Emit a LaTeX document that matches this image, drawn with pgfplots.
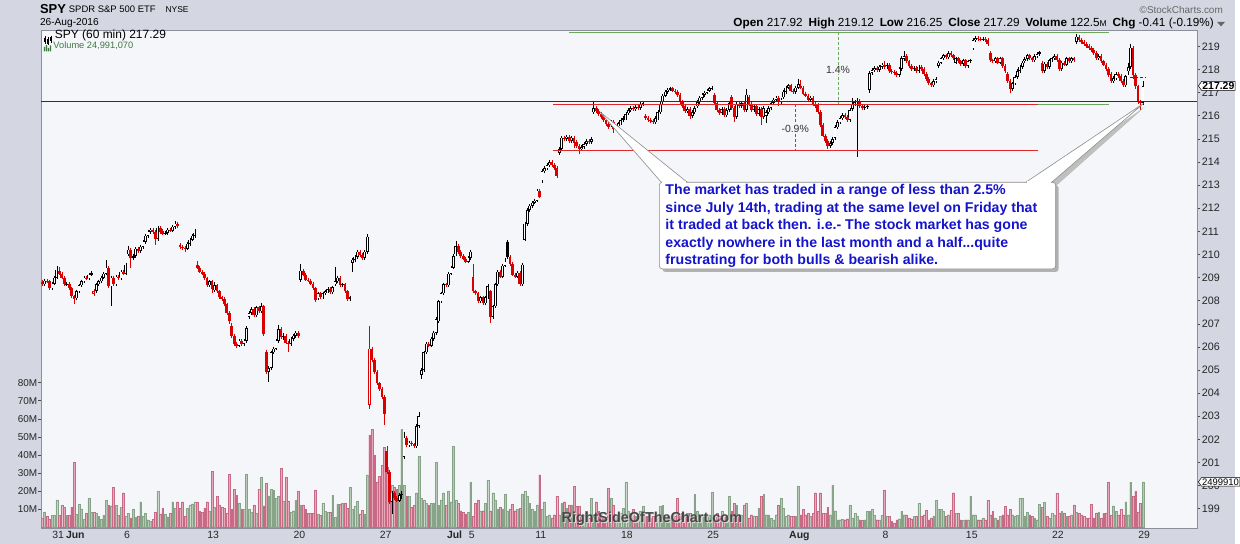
\documentclass[border=0pt]{standalone}
\usepackage{pgfplots}
\pgfplotsset{compat=1.18}
\usepackage{pgfplotstable}
\usepackage{fontspec}
\setmainfont{Liberation Sans}
\usetikzlibrary{shapes.symbols}
\definecolor{outerbg}{HTML}{D4D7E1}
\definecolor{plotbg}{HTML}{F4F6FA}
\definecolor{candred}{HTML}{DA0000}
\definecolor{volpink}{HTML}{E8A8BA}
\definecolor{volpinkd}{HTML}{C66A86}
\definecolor{volgreen}{HTML}{B4CAB4}
\definecolor{volgreend}{HTML}{88A488}
\definecolor{lineblue}{HTML}{1A1AE0}
\definecolor{linered}{HTML}{E02828}
\definecolor{linegreen}{HTML}{6CA85C}
\definecolor{calloutblue}{HTML}{1414CC}
\definecolor{framegray}{HTML}{8C8E9C}
\definecolor{volgreentext}{HTML}{3C7A3C}

\pgfplotstableread{
b o h l c d v
0 208.80 208.88 208.62 208.70 1 5
1 208.70 208.95 208.62 208.87 0 8.3
2 208.87 208.95 208.75 208.83 1 6
3 208.83 208.91 208.45 208.53 1 4.4
4 208.53 208.82 208.45 208.74 0 6.4
5 208.74 209.08 208.66 209.00 0 6.4
6 209.00 209.50 208.92 209.34 0 15
7 209.30 209.45 209.09 209.17 1 6.4
8 209.17 209.25 208.92 209.00 1 12
9 209.00 209.08 208.62 208.70 1 11
10 208.70 208.82 208.62 208.74 0 6.4
11 208.74 208.82 208.45 208.53 1 6.4
12 208.53 208.61 208.10 208.18 1 11
13 208.18 208.26 207.85 208.06 1 35.7
14 208.10 208.48 208.02 208.40 0 7
15 208.40 208.74 208.32 208.66 0 12.7
16 208.66 208.91 208.58 208.83 0 10
17 208.83 209.08 208.75 209.00 0 4.4
18 209.00 209.08 208.88 208.96 1 7.4
19 208.96 209.21 208.88 209.13 0 16
20 209.13 209.29 209.05 209.21 0 8
21 208.30 208.50 208.22 208.42 1 8
22 208.42 208.78 208.34 208.70 0 7.4
23 208.70 208.91 208.62 208.83 0 6
24 208.83 209.08 208.75 209.00 0 4.4
25 209.00 209.25 208.92 209.17 0 6.6
26 209.17 209.75 209.09 209.43 0 14.7
27 209.43 209.51 208.54 208.62 1 12
28 208.62 209.08 207.75 209.00 0 11.8
29 209.00 209.08 208.62 208.70 1 22
30 208.70 209.12 208.62 209.04 0 12
31 209.04 209.12 208.88 208.96 1 6.4
32 208.96 209.34 208.88 209.26 0 11
33 209.26 209.34 209.09 209.17 1 19
34 209.17 209.64 209.09 209.56 0 6
35 210.00 210.35 209.92 210.20 0 7.7
36 210.20 210.28 209.40 209.86 1 5
37 209.86 210.02 209.78 209.94 0 10
38 209.94 210.33 209.86 210.25 0 5.3
39 210.25 210.33 210.08 210.16 1 6.1
40 210.16 210.41 210.08 210.33 0 14
41 210.33 210.63 210.25 210.55 0 6.1
42 210.55 210.89 210.47 210.81 0 7.4
43 210.81 211.06 210.73 210.98 0 4
44 210.98 211.15 210.90 211.07 0 3.1
45 211.07 211.15 210.90 210.98 1 4.4
46 210.98 211.06 210.42 210.68 1 8.3
47 210.68 211.24 210.60 211.16 0 19.7
48 211.16 211.24 210.90 210.98 1 7.2
49 211.00 211.08 210.82 210.90 1 10.5
50 210.90 211.02 210.82 210.94 0 7.2
51 210.94 211.15 210.86 211.07 0 5.7
52 211.07 211.15 210.95 211.03 1 7.7
53 211.03 211.28 210.95 211.20 0 14
54 211.20 211.45 211.12 211.33 0 10.5
55 211.33 211.41 211.16 211.24 1 14
56 210.40 210.48 210.25 210.33 1 10.5
57 210.33 210.41 210.21 210.29 1 14
58 210.29 210.37 210.10 210.25 1 5.9
59 210.25 210.54 210.17 210.46 0 10.5
60 210.46 210.72 210.38 210.64 0 12.3
61 210.64 210.89 210.56 210.81 0 12.9
62 210.81 211.10 210.73 210.94 0 14
63 209.55 209.70 209.35 209.43 1 13.5
64 209.43 209.51 209.18 209.26 1 8.5
65 209.26 209.34 209.09 209.17 1 8.1
66 209.17 209.25 208.88 208.96 1 10.5
67 208.96 209.04 208.58 208.66 1 14
68 208.66 208.91 208.58 208.83 0 8.5
69 208.83 208.91 208.35 208.49 1 30.8
70 208.45 208.80 208.37 208.66 0 10.9
71 208.66 208.74 208.32 208.40 1 17
72 208.40 208.48 208.06 208.14 1 12.3
73 208.14 208.22 207.98 208.06 1 10.9
74 208.06 208.14 207.76 207.84 1 10.5
75 207.84 207.92 207.38 207.46 1 7.7
76 207.46 207.54 207.00 207.12 1 29.3
77 206.90 207.05 206.40 206.48 1 9.6
78 206.48 206.56 206.06 206.14 1 21
79 206.14 206.22 205.95 206.06 1 17.5
80 206.06 206.35 205.98 206.27 0 13.3
81 206.27 206.35 206.06 206.14 1 9.9
82 206.14 206.35 206.06 206.27 0 9.6
83 206.27 206.90 206.19 206.82 0 29.3
84 207.30 207.54 207.22 207.46 0 9.6
85 207.46 207.71 207.38 207.63 0 8.3
86 207.63 207.71 207.29 207.37 1 12.3
87 207.37 207.79 207.29 207.71 0 7.7
88 207.71 207.79 207.46 207.54 1 21
89 207.54 207.90 207.46 207.75 0 27.6
90 207.75 207.83 206.45 206.57 1 11.8
91 205.80 205.88 204.84 204.92 1 24.3
92 204.92 205.16 204.50 205.08 0 17.3
93 205.08 205.84 205.00 205.76 0 21
94 205.76 206.01 205.68 205.93 0 20.6
95 205.93 206.35 205.85 206.27 0 16
96 206.27 206.95 206.19 206.78 0 17.3
97 206.78 206.86 206.36 206.44 1 32.6
98 206.44 206.60 206.30 206.48 0 14.4
99 206.48 206.56 206.11 206.19 1 27.6
100 206.19 206.27 205.80 206.14 1 14.4
101 206.14 206.43 206.06 206.35 0 8.1
102 206.35 206.56 206.27 206.48 0 9
103 206.48 206.69 206.40 206.61 0 14.7
104 206.61 206.69 206.40 206.48 1 20
105 208.90 209.60 208.82 209.30 0 12.3
106 209.30 209.38 209.05 209.13 1 12.3
107 209.13 209.21 208.83 208.91 1 9.6
108 208.91 208.99 208.79 208.87 1 7.4
109 208.87 208.95 208.66 208.74 1 7.4
110 208.74 208.82 208.45 208.53 1 7.4
111 208.53 208.61 207.95 208.03 1 20.5
112 208.10 208.39 208.02 208.31 0 7.2
113 208.31 208.39 208.06 208.14 1 6.4
114 208.14 208.39 208.06 208.31 0 13
115 208.31 208.48 208.23 208.40 0 8.5
116 208.40 208.57 208.32 208.49 0 8.1
117 208.49 208.57 208.28 208.36 1 8.3
118 208.36 208.65 208.28 208.57 0 17.7
119 208.70 209.47 208.62 208.83 0 5.5
120 208.83 209.08 208.75 209.00 0 12.5
121 209.00 209.08 208.58 208.66 1 12.5
122 208.66 208.78 208.58 208.70 0 13.3
123 208.70 208.78 208.32 208.40 1 13.3
124 208.40 208.48 207.98 208.06 1 10.5
125 208.06 208.22 207.98 208.14 0 22
126 209.65 209.85 209.26 209.77 0 9.6
127 209.77 209.98 209.69 209.90 0 11.4
128 209.90 210.20 209.82 210.12 0 14.2
129 210.12 210.20 209.91 209.99 1 7.2
130 209.99 210.07 209.78 209.86 1 9.2
131 209.86 210.20 209.78 210.12 0 7.2
132 210.12 210.90 210.04 210.77 0 29
133 203.50 206.90 203.30 205.93 1 51
134 205.93 206.01 205.34 205.42 1 54
135 205.42 205.50 204.84 204.92 1 40
136 204.92 205.00 204.34 204.42 1 25
137 204.42 204.50 204.09 204.17 1 28
138 204.17 204.25 203.75 203.83 1 34
139 203.83 203.91 202.60 203.08 1 44
140 201.50 201.70 200.51 200.59 1 33
141 200.59 200.67 199.22 199.30 1 30
142 199.30 199.78 198.75 199.70 0 23
143 199.70 199.78 199.37 199.45 1 22
144 199.45 199.53 199.27 199.35 1 21
145 199.35 199.68 199.27 199.60 0 23
146 199.60 199.75 199.40 199.65 0 54
147 201.25 202.30 201.17 202.07 0 23
148 202.07 202.15 201.66 201.74 1 17
149 201.74 201.94 201.66 201.86 0 17
150 201.86 201.94 201.70 201.78 1 11
151 201.78 201.86 201.62 201.70 1 12
152 201.70 202.66 201.62 202.58 0 19
153 202.58 203.20 202.50 203.00 0 39
154 204.80 205.08 204.60 205.00 0 16
155 205.00 205.84 204.92 205.76 0 15
156 205.76 206.22 205.68 206.14 0 13
157 206.14 206.22 205.98 206.06 1 12
158 206.06 206.43 205.98 206.35 0 13
159 206.35 206.69 206.27 206.61 0 13
160 206.61 207.28 206.53 207.20 0 36
161 207.10 208.05 207.02 207.97 0 12
162 207.97 208.39 207.89 208.31 0 15
163 208.31 208.78 208.23 208.70 0 19
164 208.70 208.78 208.58 208.66 1 12
165 208.66 209.25 208.58 209.17 0 20
166 209.17 209.51 209.09 209.43 0 14
167 209.43 210.02 209.35 209.94 0 44.6
168 210.00 210.60 209.92 210.37 0 15
169 210.37 210.45 210.04 210.12 1 13
170 210.12 210.20 209.86 209.94 1 9
171 209.94 210.02 209.74 209.82 1 8
172 209.82 209.90 209.61 209.69 1 7
173 209.69 209.94 209.61 209.86 0 8
174 209.86 210.20 209.78 210.12 0 25
175 209.04 209.60 208.32 208.40 1 6
176 208.40 208.48 208.23 208.31 1 13
177 208.31 208.39 207.89 207.97 1 15
178 207.97 208.22 207.89 208.14 0 9
179 208.14 208.22 207.81 207.89 1 9
180 207.89 208.22 207.81 208.14 0 13
181 208.14 208.70 208.06 208.62 0 25.8
182 208.40 208.48 207.03 207.29 1 9
183 207.29 207.83 207.21 207.75 0 19
184 207.75 208.78 207.67 208.70 0 15
185 208.70 209.34 208.62 209.26 0 10
186 209.26 209.34 208.96 209.04 1 11
187 209.04 209.60 208.96 209.52 0 10
188 209.52 209.85 209.44 209.69 0 18
189 210.55 210.63 209.82 209.90 0 9
190 209.90 209.98 209.52 209.60 1 10
191 209.60 209.68 209.05 209.13 1 12.7
192 209.13 209.21 208.96 209.04 1 9
193 209.04 209.29 208.96 209.21 0 9.6
194 209.21 209.29 208.62 208.70 1 10.5
195 208.70 209.64 208.62 209.56 0 18
196 210.64 211.41 210.56 211.33 0 19.7
197 211.33 212.01 211.25 211.93 0 17
198 211.93 212.19 211.85 212.11 0 13
199 212.11 212.32 212.03 212.24 0 9.6
200 212.24 212.41 212.16 212.33 0 8.7
201 212.33 212.84 212.25 212.76 0 12.3
202 212.76 212.84 212.42 212.50 1 29
203 213.20 213.68 213.08 213.60 0 9.6
204 213.60 213.81 213.52 213.73 0 14
205 213.73 213.94 213.65 213.86 0 6
206 213.86 214.07 213.78 213.99 0 6.8
207 213.99 214.07 213.78 213.86 1 5
208 213.86 213.94 213.65 213.73 1 6.8
209 213.73 213.81 213.30 213.38 1 17
210 214.39 214.64 214.31 214.56 0 6.8
211 214.56 215.13 214.48 215.05 0 13
212 215.05 215.13 214.92 215.00 1 14
213 215.00 215.17 214.92 215.09 0 10.5
214 215.09 215.17 214.83 214.91 1 12.3
215 214.91 215.13 214.83 215.05 0 12.3
216 215.05 215.13 214.60 214.82 1 22.5
217 214.85 214.93 214.61 214.69 1 11.4
218 214.69 214.77 214.35 214.56 1 11.4
219 214.56 214.73 214.48 214.65 0 6
220 214.65 214.86 214.57 214.78 0 6.8
221 214.78 214.99 214.70 214.91 0 8.7
222 214.91 214.99 214.79 214.87 1 5
223 214.87 215.08 214.79 215.00 0 16
224 216.15 216.65 216.07 216.33 0 6.8
225 216.33 216.41 216.12 216.20 1 14
226 216.20 216.28 215.99 216.07 1 8.7
227 216.07 216.15 215.86 215.94 1 6
228 215.94 216.02 215.73 215.81 1 5
229 215.81 215.89 215.55 215.63 1 5
230 215.63 215.71 215.42 215.50 1 21.5
231 215.60 215.80 215.52 215.72 0 16
232 215.72 215.80 215.27 215.41 1 12.3
233 215.41 215.62 215.33 215.54 0 6.8
234 215.54 215.75 215.46 215.67 0 6
235 215.67 215.89 215.59 215.81 0 7.7
236 215.81 215.97 215.73 215.89 0 10.5
237 215.89 216.15 215.81 216.07 0 25
238 216.10 216.32 216.02 216.24 0 8.7
239 216.24 216.41 216.16 216.33 0 7.7
240 216.33 216.41 216.21 216.29 1 9.6
241 216.29 216.46 216.21 216.38 0 6
242 216.38 216.46 216.26 216.34 1 6
243 216.34 216.59 216.26 216.51 0 8.7
244 216.51 216.63 216.43 216.55 0 11.4
245 215.98 216.06 215.81 215.89 1 6
246 215.89 215.97 215.73 215.81 1 6
247 215.81 215.89 215.68 215.76 1 5
248 215.76 215.84 215.64 215.72 1 6
249 215.72 215.97 215.64 215.89 0 5
250 215.89 216.23 215.81 216.15 0 6
251 216.15 216.59 216.07 216.51 0 11.4
252 216.60 216.95 216.52 216.87 0 12
253 216.87 217.12 216.79 217.04 0 5
254 217.04 217.21 216.96 217.13 0 6.8
255 217.13 217.26 217.05 217.18 0 5
256 217.18 217.26 217.01 217.09 1 6.8
257 217.09 217.17 216.96 217.04 1 6
258 217.04 217.12 216.83 216.91 1 16
259 216.90 216.98 216.52 216.60 1 6.8
260 216.60 216.68 216.34 216.42 1 7.7
261 216.42 216.50 216.12 216.20 1 6.8
262 216.20 216.37 216.12 216.29 0 7.7
263 216.29 216.37 215.85 215.98 1 7.4
264 215.98 216.23 215.90 216.15 0 6.8
265 216.15 216.41 216.07 216.33 0 18
266 216.40 216.68 216.32 216.60 0 8.7
267 216.60 216.86 216.52 216.78 0 6
268 216.78 216.99 216.70 216.91 0 6.8
269 216.91 217.08 216.83 217.00 0 6
270 217.00 217.17 216.92 217.09 0 6
271 217.09 217.26 217.01 217.18 0 6.8
272 217.18 217.30 217.10 217.22 0 19.3
273 216.90 216.98 216.47 216.55 1 6
274 216.55 216.63 216.16 216.24 1 7.7
275 216.24 216.32 216.03 216.11 1 6
276 216.11 216.37 216.03 216.29 0 8.7
277 216.29 216.37 215.94 216.02 1 6.8
278 216.02 216.32 215.94 216.24 0 6
279 216.24 216.63 216.16 216.55 0 17
280 216.80 216.88 216.25 216.33 1 8.7
281 216.33 216.41 215.75 215.94 1 13
282 215.94 216.59 215.86 216.51 0 12.3
283 216.51 216.59 216.34 216.42 1 6
284 216.42 216.63 216.34 216.55 0 6.8
285 216.55 216.63 216.16 216.24 1 12.3
286 216.24 217.15 216.16 216.91 0 13
287 216.80 216.88 216.43 216.51 1 5
288 216.51 216.59 216.16 216.24 1 6.8
289 216.24 216.50 216.16 216.42 0 6
290 216.42 216.50 215.99 216.07 1 6
291 216.07 216.37 215.99 216.29 0 10.5
292 216.29 216.37 215.60 215.94 1 17
293 215.94 216.41 215.86 216.33 0 18
294 216.00 216.23 215.70 216.15 0 6.8
295 216.15 216.41 216.07 216.33 0 6.8
296 216.33 216.63 216.25 216.55 0 5
297 216.55 216.77 216.47 216.69 0 4
298 216.69 216.86 216.61 216.78 0 6.8
299 216.78 216.86 216.40 216.60 1 12.3
300 216.60 216.77 216.52 216.69 0 16
301 216.80 217.12 216.72 217.04 0 10.5
302 217.04 217.30 216.96 217.22 0 6
303 217.22 217.39 217.14 217.31 0 6.8
304 217.31 217.39 217.01 217.09 1 6
305 217.09 217.17 216.96 217.04 1 6
306 217.04 217.30 216.96 217.22 0 6
307 217.22 217.60 217.14 217.36 0 22.5
308 217.30 217.55 217.14 217.22 1 6.8
309 217.22 217.30 216.88 216.96 1 9.6
310 216.96 217.04 216.79 216.87 1 6.8
311 216.87 216.95 216.61 216.69 1 7.7
312 216.69 216.86 216.61 216.78 0 6
313 216.78 216.86 216.43 216.51 1 7.7
314 216.51 216.59 216.34 216.42 1 19
315 216.45 216.53 216.07 216.15 1 8.7
316 216.15 216.23 215.51 215.59 1 19
317 215.59 215.67 215.06 215.14 1 7.4
318 215.14 215.22 214.83 214.91 1 7.4
319 214.91 214.99 214.55 214.69 1 11
320 214.69 214.90 214.61 214.82 0 6.8
321 214.82 215.08 214.74 215.00 0 23
322 215.05 215.58 214.97 215.50 0 9
323 215.50 215.80 215.42 215.72 0 4
324 215.72 215.97 215.64 215.89 0 4
325 215.89 216.10 215.81 216.02 0 4.4
326 216.02 216.10 215.86 215.94 1 4
327 215.94 216.02 215.73 215.81 1 4.6
328 215.81 216.32 215.73 216.24 0 12
329 216.30 216.75 216.22 216.51 0 5
330 216.51 216.68 216.43 216.60 0 7.4
331 216.60 216.75 214.20 216.65 0 6
332 216.65 216.73 216.34 216.42 1 4
333 216.42 216.50 216.25 216.33 1 3.7
334 216.33 216.46 216.25 216.38 0 4
335 216.38 216.50 216.30 216.42 0 8.7
336 217.13 217.93 217.00 217.85 0 8.7
337 217.85 218.06 217.77 217.98 0 9.6
338 217.98 218.15 217.90 218.07 0 6.4
339 218.07 218.15 217.90 217.98 1 4
340 217.98 218.20 217.90 218.12 0 4
341 218.12 218.29 218.04 218.21 0 6.4
342 218.21 218.35 218.04 218.12 1 20.6
343 218.10 218.28 218.02 218.20 0 6
344 218.20 218.28 217.86 217.94 1 6
345 217.94 218.02 217.82 217.90 1 3
346 217.90 217.98 217.77 217.85 1 2.2
347 217.85 217.93 217.68 217.76 1 4
348 217.76 218.11 217.68 218.03 0 4.6
349 218.03 218.60 217.95 218.48 0 8.7
350 218.45 218.80 218.37 218.57 0 6.8
351 218.57 218.65 218.27 218.35 1 6.8
352 218.35 218.43 218.08 218.16 1 5
353 218.16 218.24 217.95 218.03 1 4.6
354 218.03 218.15 217.95 218.07 0 6
355 218.07 218.15 217.86 217.94 1 6
356 217.94 218.20 217.86 218.12 0 13
357 218.10 218.18 217.95 218.03 1 6
358 218.03 218.11 217.72 217.80 1 6.8
359 217.80 217.88 217.50 217.58 1 9.2
360 217.58 217.66 217.32 217.40 1 4
361 217.40 217.48 217.23 217.31 1 5
362 217.31 217.57 217.23 217.49 0 6.2
363 217.49 217.66 217.41 217.58 0 14.7
364 218.15 218.38 218.07 218.30 0 9.6
365 218.30 218.56 218.22 218.48 0 9.6
366 218.48 218.69 218.40 218.61 0 8.7
367 218.61 218.69 218.44 218.52 1 6
368 218.52 218.78 218.44 218.70 0 6.8
369 218.70 218.78 218.53 218.61 1 9.2
370 218.61 218.69 218.40 218.48 1 19
371 218.30 218.56 218.22 218.48 0 7.4
372 218.48 218.56 218.27 218.35 1 7.4
373 218.35 218.43 218.17 218.25 1 4
374 218.25 218.47 218.17 218.39 0 3.5
375 218.39 218.47 218.08 218.16 1 4
376 218.16 218.43 218.08 218.35 0 4
377 218.35 218.47 218.27 218.39 0 17
378 218.92 219.36 218.84 219.28 0 6.8
379 219.28 219.45 219.20 219.37 0 6.8
380 219.37 219.45 219.25 219.33 1 4
381 219.33 219.41 219.22 219.30 1 4
382 219.30 219.41 219.22 219.33 0 5
383 219.33 219.41 219.20 219.28 1 4
384 219.28 219.36 219.02 219.10 1 14.7
385 218.70 218.78 218.31 218.39 1 6.8
386 218.39 218.47 218.27 218.35 1 8.7
387 218.35 218.56 218.27 218.48 0 5
388 218.48 218.56 218.22 218.30 1 4
389 218.30 218.56 218.22 218.48 0 6
390 218.48 218.56 218.08 218.16 1 6.8
391 218.16 218.24 217.86 217.94 1 11.4
392 217.80 217.88 217.41 217.49 1 6.8
393 217.49 217.57 217.00 217.15 1 9.6
394 217.15 217.48 217.07 217.40 0 6.8
395 217.40 217.75 217.32 217.67 0 6.2
396 217.67 218.02 217.59 217.94 0 6.6
397 217.94 218.20 217.86 218.12 0 16
398 218.12 218.38 218.04 218.30 0 16
399 218.35 218.53 218.27 218.45 0 6
400 218.45 218.69 218.37 218.61 0 8.3
401 218.61 218.69 218.40 218.48 1 6.8
402 218.48 218.56 218.31 218.39 1 6
403 218.39 218.65 218.31 218.57 0 5
404 218.57 218.74 218.49 218.66 0 4
405 218.66 218.82 218.58 218.74 0 12.7
406 218.30 218.38 217.86 217.94 1 11
407 217.94 218.33 217.86 218.25 0 13.8
408 218.25 218.33 218.04 218.12 1 6
409 218.12 218.47 218.04 218.39 0 5
410 218.39 218.56 218.31 218.48 0 7.8
411 218.48 218.65 218.40 218.57 0 6.8
412 218.57 218.65 218.31 218.39 1 18.8
413 218.40 218.48 217.95 218.03 1 7.8
414 218.03 218.38 217.95 218.30 0 8.7
415 218.30 218.38 218.13 218.21 1 7.8
416 218.21 218.56 218.13 218.48 0 6
417 218.48 218.56 218.27 218.35 1 6
418 218.35 218.56 218.27 218.48 0 6.8
419 218.48 218.56 218.31 218.39 1 12.3
420 219.20 219.55 219.12 219.42 0 8
421 219.42 219.50 219.20 219.28 1 7.4
422 219.28 219.36 219.11 219.19 1 6.8
423 219.19 219.27 219.02 219.10 1 6
424 219.10 219.18 218.93 219.01 1 5
425 219.01 219.09 218.84 218.92 1 5
426 218.92 219.00 218.75 218.83 1 12.7
427 218.85 218.93 218.62 218.70 1 5
428 218.70 218.78 218.40 218.48 1 7.8
429 218.48 218.65 218.40 218.57 0 8.3
430 218.57 218.65 218.27 218.35 1 5
431 218.35 218.43 218.13 218.21 1 7.4
432 218.21 218.29 217.95 218.03 1 7.8
433 218.03 218.11 217.68 217.76 1 24.7
434 217.80 217.88 217.41 217.49 1 6.4
435 217.49 217.70 217.41 217.62 0 11.8
436 217.62 217.88 217.54 217.80 0 8.7
437 217.80 217.88 217.63 217.71 1 6.8
438 217.71 217.79 217.41 217.49 1 9.6
439 217.49 217.57 217.23 217.31 1 6.8
440 217.31 217.78 217.23 217.70 0 14
441 217.92 218.30 217.75 218.10 0 6.8
442 218.10 219.12 218.00 218.95 0 24.7
443 218.95 219.00 217.60 217.75 1 17
444 217.75 217.85 217.15 217.27 1 19.7
445 217.27 217.35 216.50 216.60 1 8.3
446 216.60 216.70 216.25 216.55 1 13
447 216.55 217.50 216.45 217.29 0 24.99
}\spydata

\begin{document}
\begin{tikzpicture}
% backgrounds
\begin{scope}[x=1pt,y=1pt]
\fill[outerbg] (0,0) rectangle (1240,546);
\fill[plotbg] (41,16) rectangle (1202,516);
\end{scope}

% ---------------- volume axis ----------------
\begin{axis}[at={(41pt,16pt)}, anchor=south west, scale only axis,
  width=1161pt, height=500pt,
  xmin=-0.5, xmax=469, ymin=-0.5, ymax=275.7,
  axis line style={draw=none}, xtick=\empty,
  ytick={10,20,30,40,50,60,70,80},
  yticklabels={10M,20M,30M,40M,50M,60M,70M,80M},
  ytick pos=left, tick align=outside, major tick length=2.5pt,
  yticklabel style={font=\fontsize{10}{10}\selectfont, text=black!85, inner sep=1pt},
  ytick style={black!70, line width=0.5pt}]
\addplot[ybar, bar shift=0pt, bar width=1.8pt, fill=volgreen, draw=volgreend, line width=0.3pt]
  table[x=b, y expr={\thisrow{d}==0 ? \thisrow{v} : nan}] {\spydata};
\addplot[ybar, bar shift=0pt, bar width=1.8pt, fill=volpink, draw=volpinkd, line width=0.3pt]
  table[x=b, y expr={\thisrow{d}==1 ? \thisrow{v} : nan}] {\spydata};
\coordinate (voltag) at (axis cs:469,24.99);
\end{axis}

% ---------------- price axis ----------------
\begin{axis}[at={(41pt,16pt)}, anchor=south west, scale only axis,
  width=1161pt, height=500pt,
  xmin=-0.5, xmax=469, ymin=198.172, ymax=219.714,
  axis line style={framegray, line width=0.6pt},
  ytick={199,200,201,202,203,204,205,206,207,208,209,210,211,212,213,214,215,216,217,218,219},
  yticklabels={199,200,201,202,203,204,205,206,207,208,209,210,211,212,213,214,215,216,217,218,219},
  ytick pos=right, yticklabel pos=right, tick align=outside, major tick length=3pt,
  ytick style={black!70, line width=0.5pt},
  yticklabel style={font=\fontsize{10.8}{11}\selectfont, text=black!85, inner sep=1.5pt},
  xtick={6.5,13.5,34.5,69.5,104.5,139.5,167.5,174.5,202.5,237.5,272.5,307.5,342.5,377.5,412.5,447.5},
  xticklabels={31,\textbf{Jun},6,13,20,27,\textbf{Jul},5,11,18,25,\textbf{Aug},8,15,22,29},
  xtick pos=bottom, xtick style={draw=none},
  xticklabel style={font=\fontsize{10.5}{11}\selectfont, text=black!85, inner sep=1pt, yshift=1pt},
  every axis plot/.append style={draw=none, no markers}]
% wicks
\addplot[draw=none, no markers, error bars/.cd, y dir=minus, y explicit, error mark=none,
  error bar style={draw=black, line width=0.5pt, line cap=butt}]
  table[x=b, y expr={\thisrow{d}==0 ? \thisrow{h} : nan}, y error minus expr={\thisrow{h}-\thisrow{l}}] {\spydata};
\addplot[draw=none, no markers, error bars/.cd, y dir=minus, y explicit, error mark=none,
  error bar style={draw=candred, line width=0.5pt, line cap=butt}]
  table[x=b, y expr={\thisrow{d}==1 ? \thisrow{h} : nan}, y error minus expr={\thisrow{h}-\thisrow{l}}] {\spydata};
% bodies
\addplot[draw=none, no markers, error bars/.cd, y dir=minus, y explicit, error mark=none,
  error bar style={draw=black, line width=2.8pt, line cap=butt}]
  table[x=b, y expr={\thisrow{d}==0 ? max(\thisrow{o},\thisrow{c}) : nan}, y error minus expr={abs(\thisrow{c}-\thisrow{o})}] {\spydata};
\addplot[draw=none, no markers, error bars/.cd, y dir=minus, y explicit, error mark=none,
  error bar style={draw=candred, line width=2.8pt, line cap=butt}]
  table[x=b, y expr={\thisrow{d}==1 ? max(\thisrow{o},\thisrow{c}) : nan}, y error minus expr={abs(\thisrow{c}-\thisrow{o})}] {\spydata};
% hollow interiors
\addplot[draw=none, no markers, error bars/.cd, y dir=minus, y explicit, error mark=none,
  error bar style={draw=white, line width=1.3pt, line cap=butt}]
  table[x=b, y expr={(\thisrow{c}-\thisrow{o}>0.08) ? \thisrow{c}-0.03 : nan}, y error minus expr={\thisrow{c}-\thisrow{o}-0.06}] {\spydata};

% annotation lines
\draw[lineblue, line width=1.1pt] (axis cs:-0.5,216.6) -- (axis cs:469,216.6);
\draw[linered, line width=0.8pt] (axis cs:207.6,216.5) -- (axis cs:404.4,216.5);
\draw[linered, line width=0.8pt] (axis cs:207.6,214.52) -- (axis cs:404.4,214.52);
\draw[linegreen, line width=0.8pt] (axis cs:213.9,219.6) -- (axis cs:433.1,219.6);
\draw[linegreen, line width=0.8pt] (axis cs:404.4,216.5) -- (axis cs:433.1,216.5);
\draw[linegreen, line width=0.7pt, dash pattern=on 3pt off 2pt] (axis cs:323.2,219.6) -- (axis cs:323.2,216.5);
\draw[linered, line width=0.7pt, dash pattern=on 3pt off 2pt] (axis cs:305.8,216.5) -- (axis cs:305.8,214.52);
\draw[lineblue, line width=0.8pt, dash pattern=on 3pt off 2pt] (axis cs:441.7,217.67) -- (axis cs:447.8,217.67);
\node[fill=plotbg, inner sep=1pt, font=\fontsize{10.5}{11}\selectfont, text=black!80] at (axis cs:323.2,218.0) {1.4\%};
\node[fill=plotbg, inner sep=1pt, font=\fontsize{10.5}{11}\selectfont, text=black!80] at (axis cs:305.8,215.45) {-0.9\%};
\coordinate (pricetag) at (axis cs:469,217.29);
\end{axis}

\begin{scope}[x=1pt,y=1pt]
% right border dotted look
\draw[framegray, line width=0.6pt, dash pattern=on 0.8pt off 1.2pt] (1202,16) -- (1202,516);

% price / volume tags
\node[signal, signal to=west, signal pointer angle=110, draw=black, fill=white, line width=0.5pt,
  anchor=west, inner sep=0.8pt, font=\bfseries\fontsize{10.5}{11}\selectfont] at ([xshift=1pt]pricetag) {217.29};
\node[signal, signal to=west, signal pointer angle=110, draw=black, fill=white, line width=0.5pt,
  anchor=west, inner sep=0.8pt, font=\fontsize{9.5}{10}\selectfont] at ([xshift=1pt]voltag) {2499910};

% ---------------- callout ----------------
\fill[black!25] (605,431) -- (668,359) -- (694,359) -- cycle;
\fill[black!25] (1150,439) -- (1034,359) -- (1060,359) -- cycle;
\filldraw[fill=white, draw=black!45, line width=0.6pt] (602,434) -- (664,363) -- (690,363) -- cycle;
\filldraw[fill=white, draw=black!45, line width=0.6pt] (1148,442) -- (1030,363) -- (1056,363) -- cycle;
\fill[black!30, rounded corners=3pt] (665,273) rectangle (1063,360);
\filldraw[fill=white, draw=black!45, line width=0.6pt, rounded corners=3pt] (662,276) rectangle (1060,363);
\fill[white] (665,362) rectangle (689,364);
\fill[white] (1031,362) rectangle (1055,364);
\node[anchor=north west, align=left, text=calloutblue, inner sep=0pt,
  font=\bfseries\fontsize{14.2}{17.6}\selectfont] at (668,361)
  {The market has traded in a range of less than 2.5\%\\
   since July 14th, trading at the same level on Friday that\\
   it traded at back then. i.e.- The stock market has gone\\
   exactly nowhere in the last month and a half...quite\\
   frustrating for both bulls \& bearish alike.};

% ---------------- header ----------------
\node[anchor=base west, inner sep=0pt, font=\bfseries\fontsize{13}{13}\selectfont] at (40,532.7) {SPY};
\node[anchor=base west, inner sep=0pt, font=\fontsize{9.5}{10}\selectfont] at (69,533.3) {SPDR S\&P 500 ETF};
\node[anchor=base west, inner sep=0pt, font=\fontsize{8.5}{9}\selectfont] at (166,533.3) {NYSE};
\node[anchor=base west, inner sep=0pt, font=\fontsize{10.2}{10}\selectfont] at (40,520) {26-Aug-2016};
\node[anchor=base east, inner sep=0pt, font=\fontsize{10}{10}\selectfont, text=black!60] at (1228,532) {\textcopyright StockCharts.com};
\node[anchor=base east, inner sep=0pt, font=\fontsize{11.8}{12}\selectfont] at (1219,519.5)
  {\textbf{Open} 217.92\enspace \textbf{High} 219.12\enspace \textbf{Low} 216.25\enspace \textbf{Close} 217.29\enspace \textbf{Volume} 122.5{\fontsize{8.5}{8.5}\selectfont M}\enspace \textbf{Chg} -0.41 (-0.19\%)};
\fill[black!60] (1222,524) -- (1230,524) -- (1226,519.5) -- cycle;

% in-plot legend
\draw[black, line width=0.5pt] (45,502) -- (45,510) (48,501) -- (48,509) (51,503) -- (51,510);
\fill[black] (44.2,504) rectangle (45.8,508);
\draw[black, line width=0.5pt] (47.2,503) rectangle (48.8,507);
\fill[black] (50.2,505) rectangle (51.8,508.5);
\fill[volgreentext] (44,494.5) rectangle (45.4,499) (46,494.5) rectangle (47.4,501) (48,494.5) rectangle (49.4,498) (50,494.5) rectangle (51.4,500.5);
\node[anchor=base west, inner sep=0pt, font=\fontsize{12}{12}\selectfont] at (55,507.7) {SPY (60 min) 217.29};
\node[anchor=base west, inner sep=0pt, font=\fontsize{9.3}{10}\selectfont, text=volgreentext] at (53.5,497.7) {Volume 24,991,070};

% watermark
\node[font=\bfseries\fontsize{14.5}{15}\selectfont, text=white!85!black] at (655.6,23.6) {RightSideOfTheChart.com};
\node[font=\bfseries\fontsize{14.5}{15}\selectfont, text=black!72] at (654.5,24.6) {RightSideOfTheChart.com};
\end{scope}
\end{tikzpicture}
\end{document}
